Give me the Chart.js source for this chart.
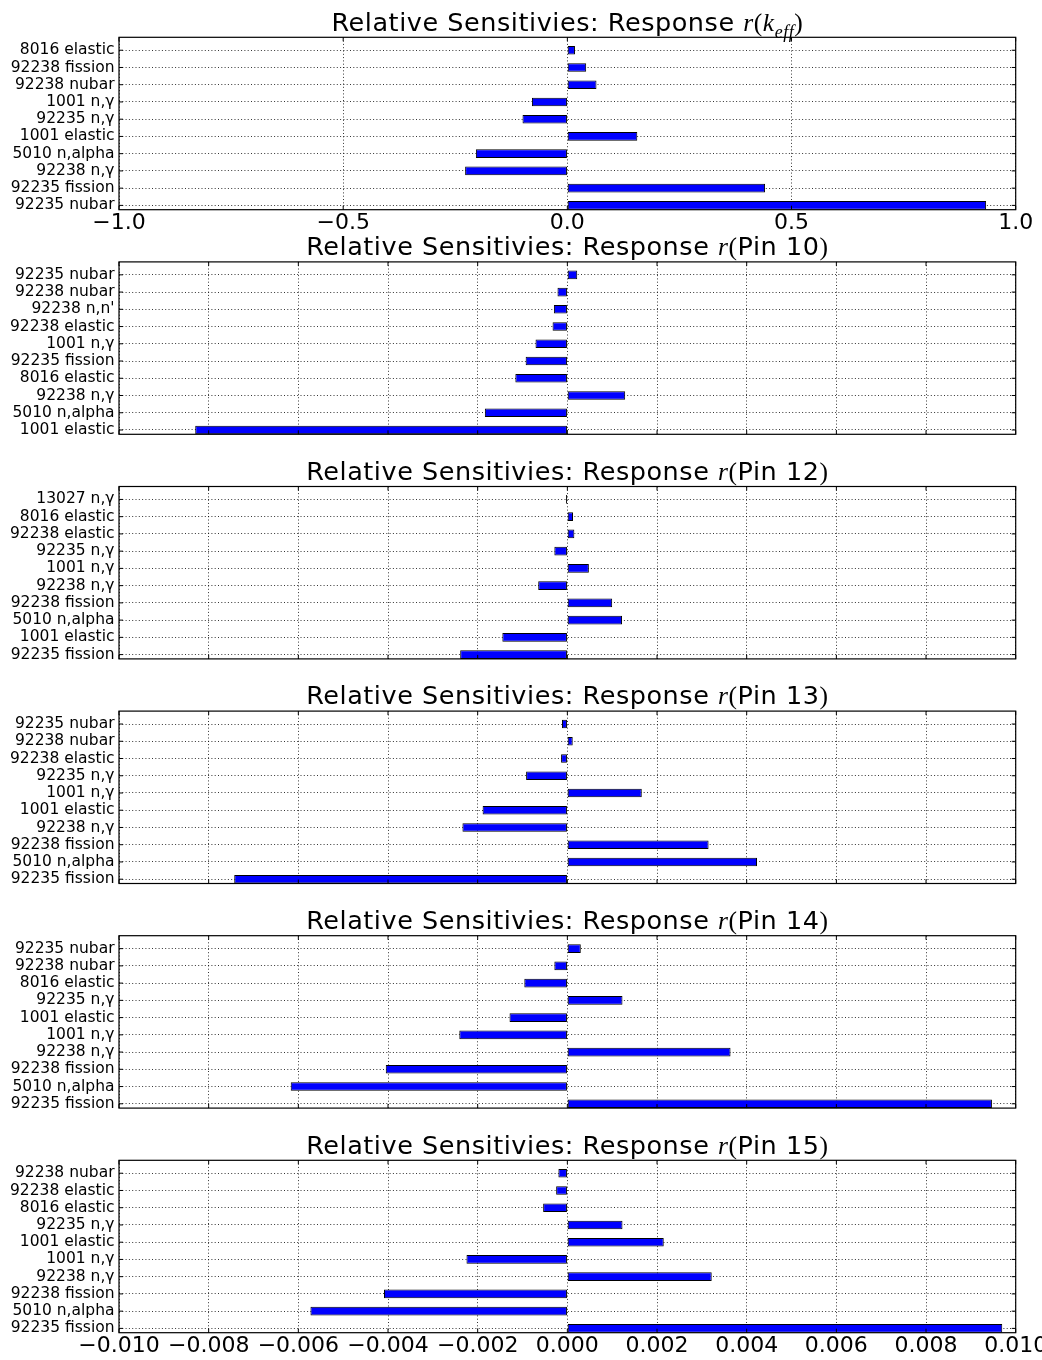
<!DOCTYPE html>
<html lang="en">
<head>
  <meta charset="UTF-8">
  <title>Relative Sensitivities</title>
  <script src="https://cdn.jsdelivr.net/npm/chart.js"></script>
  <style>
    body {
      margin: 0;
      background: #fff;
      width: 1042px;
      height: 1360px;
      overflow: hidden;
      position: relative;
      font-family: 'DejaVu Sans', sans-serif;
    }
    canvas { position: absolute; left: 0; }
    .title {
      position: absolute;
      left: 119px;
      width: 896.7px;
      text-align: center;
      font-size: 25.5px;
      line-height: 25px;
      letter-spacing: 0.55px;
      white-space: nowrap;
      color: #000;
      z-index: 2;
    }
    .m { font-family: 'Liberation Serif', serif; font-style: italic; }
    .p { font-family: 'Liberation Serif', serif; }
    .m sub { font-size: 70%; position: relative; top: 0.4em; vertical-align: baseline; }
  </style>
</head>
<body>
<script>
  // --- data (listed top to bottom as drawn) ---
  const labelsKeff = ['8016 elastic', '92238 fission', '92238 nubar', '1001 n,γ', '92235 n,γ',
    '1001 elastic', '5010 n,alpha', '92238 n,γ', '92235 fission', '92235 nubar'];
  const valuesKeff = [0.017, 0.042, 0.065, -0.079, -0.100, 0.156, -0.204, -0.228, 0.441, 0.934];

  const labelsPin10 = ['92235 nubar', '92238 nubar', "92238 n,n'", '92238 elastic', '1001 n,γ',
    '92235 fission', '8016 elastic', '92238 n,γ', '5010 n,alpha', '1001 elastic'];
  const valuesPin10 = [0.00022, -0.00022, -0.00030, -0.00033, -0.00071, -0.00093, -0.00116, 0.00129, -0.00184, -0.00830];

  const labelsPin12 = ['13027 n,γ', '8016 elastic', '92238 elastic', '92235 n,γ', '1001 n,γ',
    '92238 n,γ', '92238 fission', '5010 n,alpha', '1001 elastic', '92235 fission'];
  const valuesPin12 = [-0.00003, 0.000126, 0.000156, -0.00029, 0.00048, -0.00065, 0.00100, 0.00122, -0.00145, -0.00239];

  const labelsPin13 = ['92235 nubar', '92238 nubar', '92238 elastic', '92235 n,γ', '1001 n,γ',
    '1001 elastic', '92238 n,γ', '92238 fission', '5010 n,alpha', '92235 fission'];
  const valuesPin13 = [-0.00012, 0.00012, -0.00014, -0.00092, 0.00166, -0.00189, -0.00234, 0.00315, 0.00423, -0.00743];

  const labelsPin14 = ['92235 nubar', '92238 nubar', '8016 elastic', '92235 n,γ', '1001 elastic',
    '1001 n,γ', '92238 n,γ', '92238 fission', '5010 n,alpha', '92235 fission'];
  const valuesPin14 = [0.00030, -0.00029, -0.00096, 0.00123, -0.00129, -0.00241, 0.00364, -0.00405, -0.00617, 0.00947];

  const labelsPin15 = ['92238 nubar', '92238 elastic', '8016 elastic', '92235 n,γ', '1001 elastic',
    '1001 n,γ', '92238 n,γ', '92238 fission', '5010 n,alpha', '92235 fission'];
  const valuesPin15 = [-0.00020, -0.00025, -0.00054, 0.00123, 0.00215, -0.00225, 0.00322, -0.00409, -0.00573, 0.00970];

  // x tick values and labels
  const xTicksKeff = [-1.0, -0.5, 0.0, 0.5, 1.0];
  const xTickLabelsKeff = ['−1.0', '−0.5', '0.0', '0.5', '1.0'];
  const xTicksPin = [-0.010, -0.008, -0.006, -0.004, -0.002, 0.000, 0.002, 0.004, 0.006, 0.008, 0.010];
  const xTickLabelsPin = ['−0.010', '−0.008', '−0.006', '−0.004', '−0.002', '0.000', '0.002', '0.004', '0.006', '0.008', '0.010'];

  const titleText = 'Relative Sensitivies: Response ';

  // --- layout ---
  const AX_LEFT = 119, AX_RIGHT = 1015.7;
  const AX_TOP0 = 37.3, AX_STEP = 224.6, AX_H = 172.4;
  const CANVAS_W = 1100, CANVAS_H = 221;

  Chart.defaults.font.family = "'DejaVu Sans', sans-serif";
  Chart.defaults.color = '#000';

  // axes frame + inward tick marks (matplotlib style)
  const frame = {
    id: 'frame',
    afterDraw(chart) {
      const { ctx, chartArea: a, scales } = chart;
      ctx.save();
      ctx.strokeStyle = '#000';
      ctx.lineWidth = 1.2;
      ctx.strokeRect(a.left, a.top, a.right - a.left, a.bottom - a.top);
      ctx.lineWidth = 1;
      ctx.beginPath();
      scales.x.ticks.forEach(t => {
        const x = scales.x.getPixelForValue(t.value);
        ctx.moveTo(x, a.top); ctx.lineTo(x, a.top + 4);
        ctx.moveTo(x, a.bottom); ctx.lineTo(x, a.bottom - 4);
      });
      scales.y.ticks.forEach(t => {
        const y = scales.y.getPixelForValue(t.value);
        ctx.moveTo(a.left, y); ctx.lineTo(a.left + 4, y);
        ctx.moveTo(a.right, y); ctx.lineTo(a.right - 4, y);
      });
      ctx.stroke();
      ctx.restore();
    }
  };

  const panels = [
    { math: '<span class="m">r</span><span class="p">(</span><span class="m">k<sub>eff</sub></span><span class="p">)</span>',
      labels: labelsKeff, values: valuesKeff, xTicks: xTicksKeff, xLabels: xTickLabelsKeff, showX: true },
    { math: '<span class="m">r</span><span class="p">(</span>Pin 10<span class="p">)</span>',
      labels: labelsPin10, values: valuesPin10, xTicks: xTicksPin, xLabels: xTickLabelsPin, showX: false },
    { math: '<span class="m">r</span><span class="p">(</span>Pin 12<span class="p">)</span>',
      labels: labelsPin12, values: valuesPin12, xTicks: xTicksPin, xLabels: xTickLabelsPin, showX: false },
    { math: '<span class="m">r</span><span class="p">(</span>Pin 13<span class="p">)</span>',
      labels: labelsPin13, values: valuesPin13, xTicks: xTicksPin, xLabels: xTickLabelsPin, showX: false },
    { math: '<span class="m">r</span><span class="p">(</span>Pin 14<span class="p">)</span>',
      labels: labelsPin14, values: valuesPin14, xTicks: xTicksPin, xLabels: xTickLabelsPin, showX: false },
    { math: '<span class="m">r</span><span class="p">(</span>Pin 15<span class="p">)</span>',
      labels: labelsPin15, values: valuesPin15, xTicks: xTicksPin, xLabels: xTickLabelsPin, showX: true }
  ];

  const gridOpts = { color: '#000', lineWidth: 0.8, drawTicks: false, offset: false };
  const borderOpts = { display: false, dash: [1, 2.3] };

  panels.forEach((p, k) => {
    const axTop = AX_TOP0 + k * AX_STEP;
    const cTop = Math.floor(axTop - 8);
    const padTop = axTop - cTop;
    const xH = CANVAS_H - padTop - AX_H;
    const n = p.labels.length;

    const title = document.createElement('div');
    title.className = 'title';
    title.style.top = (axTop - 6.6 - 21.15) + 'px';
    title.innerHTML = titleText + p.math;
    document.body.appendChild(title);

    const canvas = document.createElement('canvas');
    canvas.width = CANVAS_W;
    canvas.height = CANVAS_H;
    canvas.style.top = cTop + 'px';
    document.body.appendChild(canvas);

    new Chart(canvas.getContext('2d'), {
      type: 'bar',
      data: {
        datasets: [{
          data: p.values.map((v, i) => ({ x: v, y: n - 1 - i + 0.25 })),
          backgroundColor: '#0000ff',
          borderColor: '#000',
          borderWidth: 1,
          borderSkipped: false,
          barPercentage: 0.5,
          categoryPercentage: 1
        }]
      },
      options: {
        indexAxis: 'y',
        responsive: false,
        animation: false,
        layout: { padding: { top: padTop, right: CANVAS_W - AX_RIGHT, bottom: 0, left: 0 } },
        plugins: { legend: { display: false }, tooltip: { enabled: false } },
        scales: {
          x: {
            type: 'linear',
            position: 'bottom',
            min: p.xTicks[0],
            max: p.xTicks[p.xTicks.length - 1],
            bounds: 'data',
            offset: false,
            z: 1,
            grid: gridOpts,
            border: borderOpts,
            ticks: {
              display: p.showX,
              autoSkip: false,
              maxRotation: 0,
              padding: 3,
              color: '#000',
              font: { size: 22, lineHeight: 1 },
              callback: (v, i) => p.xLabels[i]
            },
            afterBuildTicks: s => { s.ticks = p.xTicks.map(v => ({ value: v })); },
            afterFit: s => { s.height = xH; s.paddingLeft = 0; s.paddingRight = 0; }
          },
          y: {
            type: 'linear',
            min: 0,
            max: 10,
            bounds: 'data',
            offset: false,
            z: 1,
            grid: gridOpts,
            border: borderOpts,
            ticks: {
              autoSkip: false,
              padding: 4.5,
              color: '#000',
              font: { size: 15.5, lineHeight: 1 },
              callback: (v, i) => p.labels[n - 1 - i]
            },
            afterBuildTicks: s => { s.ticks = p.labels.map((_, j) => ({ value: j + 0.25 })); },
            afterFit: s => { s.width = AX_LEFT; s.paddingTop = 0; s.paddingBottom = 0; }
          }
        }
      },
      plugins: [frame]
    });
  });
</script>
</body>
</html>
